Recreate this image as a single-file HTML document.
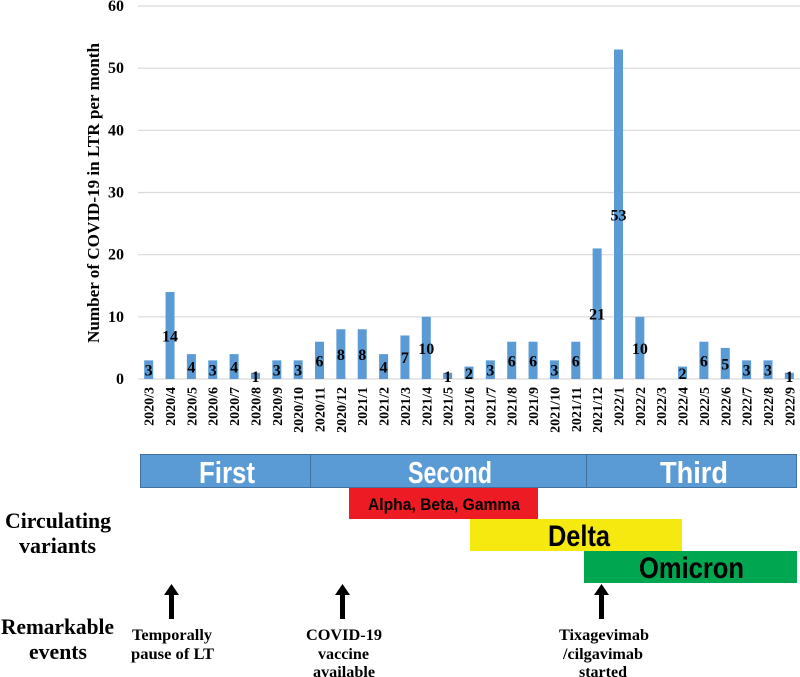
<!DOCTYPE html>
<html><head><meta charset="utf-8"><style>
body{margin:0;background:#fff;}
svg{display:block;}
.serif{font-family:"Liberation Serif",serif;font-weight:bold;}
.narrow{font-family:"Liberation Sans",sans-serif;font-weight:bold;}
</style></head><body>
<svg id="chart" width="800" height="677" viewBox="0 0 800 677" xmlns="http://www.w3.org/2000/svg">
<g id="grid"></g>
<g id="yticks"></g>
<g id="bars"></g>
<g id="xticks"></g>
<text class="serif" font-size="17" transform="translate(99,193) rotate(-90)" text-anchor="middle" textLength="300" lengthAdjust="spacingAndGlyphs">Number of COVID-19 in LTR per month</text>

<g>
<rect x="140.5" y="454.5" width="170" height="33" fill="#5b9bd5" stroke="#41719c"/>
<rect x="310.5" y="454.5" width="276" height="33" fill="#5b9bd5" stroke="#41719c"/>
<rect x="586.5" y="454.5" width="210" height="33" fill="#5b9bd5" stroke="#41719c"/>
<text class="narrow" x="199" y="483" font-size="31" fill="#fff" textLength="56" lengthAdjust="spacingAndGlyphs">First</text>
<text class="narrow" x="408" y="483" font-size="31" fill="#fff" textLength="84" lengthAdjust="spacingAndGlyphs">Second</text>
<text class="narrow" x="660" y="483" font-size="31" fill="#fff" textLength="68" lengthAdjust="spacingAndGlyphs">Third</text>
</g>
<rect x="349" y="488" width="189" height="31" fill="#ed1c24"/>
<text class="narrow" x="368" y="510" font-size="17" textLength="152" lengthAdjust="spacingAndGlyphs">Alpha, Beta, Gamma</text>
<rect x="470" y="519" width="212" height="32" fill="#f5e90f"/>
<text class="narrow" x="548" y="546" font-size="30" textLength="62" lengthAdjust="spacingAndGlyphs">Delta</text>
<rect x="584" y="551" width="213" height="32" fill="#00a650"/>
<text class="narrow" x="639" y="578" font-size="30" textLength="105" lengthAdjust="spacingAndGlyphs">Omicron</text>

<g class="serif" font-size="22">
<text x="5" y="528" textLength="106" lengthAdjust="spacingAndGlyphs">Circulating</text>
<text x="19" y="553" textLength="77" lengthAdjust="spacingAndGlyphs">variants</text>
<text x="1" y="634" textLength="113" lengthAdjust="spacingAndGlyphs">Remarkable</text>
<text x="29" y="659" textLength="58" lengthAdjust="spacingAndGlyphs">events</text>
</g>
<g fill="#000">
<g><rect x="169" y="594" width="5" height="25"/><polygon points="164,595 171.5,584 179,595"/></g>
<g><rect x="340" y="594" width="5" height="25"/><polygon points="335,595 342.5,584 350,595"/></g>
<g><rect x="599" y="594" width="5" height="25"/><polygon points="594,595 601.5,584 609,595"/></g>
</g>
<g class="serif" font-size="16">
<text x="132" y="640" textLength="80" lengthAdjust="spacingAndGlyphs">Temporally</text>
<text x="131" y="659" textLength="83" lengthAdjust="spacingAndGlyphs">pause of LT</text>
<text x="306" y="640" textLength="76" lengthAdjust="spacingAndGlyphs">COVID-19</text>
<text x="318" y="659" textLength="51" lengthAdjust="spacingAndGlyphs">vaccine</text>
<text x="313" y="677" textLength="62" lengthAdjust="spacingAndGlyphs">available</text>
<text x="559" y="640" textLength="90" lengthAdjust="spacingAndGlyphs">Tixagevimab</text>
<text x="563" y="659" textLength="80" lengthAdjust="spacingAndGlyphs">/cilgavimab</text>
<text x="579" y="677" textLength="48" lengthAdjust="spacingAndGlyphs">started</text>
</g>
</svg>
<script>
const categories=["2020/3","2020/4","2020/5","2020/6","2020/7","2020/8","2020/9","2020/10","2020/11","2020/12","2021/1","2021/2","2021/3","2021/4","2021/5","2021/6","2021/7","2021/8","2021/9","2021/10","2021/11","2021/12","2022/1","2022/2","2022/3","2022/4","2022/5","2022/6","2022/7","2022/8","2022/9"];
const values=[3,14,4,3,4,1,3,3,6,8,8,4,7,10,1,2,3,6,6,3,6,21,53,10,0,2,6,5,3,3,1];
const yTicks=[0,10,20,30,40,50,60];
const NS="http://www.w3.org/2000/svg";
const x0=138,x1=800,yBase=379,yTop=6,yMax=60;
const step=(x1-x0)/categories.length;
function xC(i){return x0+step*(i+0.5);}
function yS(v){return yBase-(v/yMax)*(yBase-yTop);}
function mk(tag,attrs,parent){const e=document.createElementNS(NS,tag);for(const k in attrs)e.setAttribute(k,attrs[k]);parent.appendChild(e);return e;}
const grid=document.getElementById('grid'),yt=document.getElementById('yticks'),bars=document.getElementById('bars'),xt=document.getElementById('xticks');
yTicks.forEach(t=>{
 const l=mk('line',{x1:x0,x2:x1,y1:yS(t),y2:yS(t),stroke:'#d9d9d9','stroke-width':1.2},grid);
 
 
 const tx=mk('text',{x:124,y:yS(t)+5,'text-anchor':'end','font-size':16,class:'serif'},yt);
 tx.textContent=t;
 
 
});
categories.forEach((c,i)=>{
 const v=values[i];
 if(v>0){
  const r=mk('rect',{x:xC(i)-4.5,y:yS(v),width:9,height:yBase-yS(v),fill:'#5b9bd5'},bars);
  
  
  const lbl=mk('text',{x:xC(i),y:yS(v/2)+6,'text-anchor':'middle','font-size':16,class:'serif'},bars);
  lbl.textContent=v;
  
  
 }
 const t=mk('text',{transform:`translate(${xC(i)+5},387) rotate(-90)`,'text-anchor':'end','font-size':14,class:'serif'},xt);
 t.textContent=c;
 
 
});
</script>
</body></html>
